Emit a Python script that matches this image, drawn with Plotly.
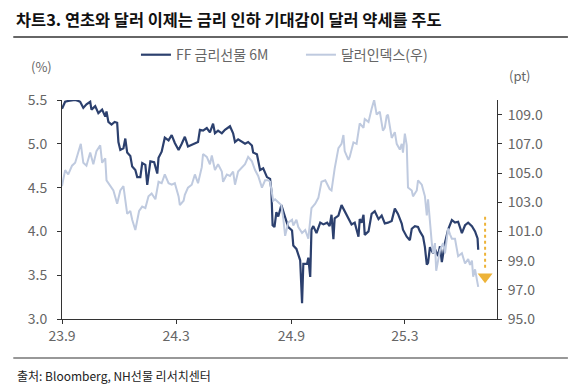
import plotly.graph_objects as go

# ---------------- data ----------------
ff_dates = ["2023-09-01","2023-09-06","2023-09-11","2023-09-22","2023-09-27","2023-09-30","2023-10-05","2023-10-10",
"2023-10-16","2023-10-18","2023-10-24","2023-10-29","2023-11-04","2023-11-09","2023-11-11","2023-11-14","2023-11-19",
"2023-11-24","2023-11-28","2023-11-30","2023-12-03","2023-12-08","2023-12-11","2023-12-14","2023-12-19","2023-12-22",
"2023-12-27","2023-12-30","2024-01-04","2024-01-07","2024-01-12","2024-01-15","2024-01-20","2024-01-26","2024-01-31",
"2024-02-02","2024-02-07","2024-02-12","2024-02-18","2024-02-23","2024-02-28","2024-03-05","2024-03-10","2024-03-15",
"2024-03-20","2024-03-26","2024-03-31","2024-04-05","2024-04-08","2024-04-13","2024-04-19","2024-04-24","2024-04-29",
"2024-05-02","2024-05-07","2024-05-13","2024-05-18","2024-05-26","2024-05-31","2024-06-03","2024-06-08","2024-06-14",
"2024-06-19","2024-06-24","2024-06-30","2024-07-02","2024-07-08","2024-07-13","2024-07-18","2024-07-24","2024-07-29",
"2024-07-31","2024-08-02","2024-08-05","2024-08-08","2024-08-11","2024-08-16","2024-08-22","2024-08-27","2024-09-02",
"2024-09-04","2024-09-09","2024-09-15","2024-09-18","2024-09-20","2024-09-26","2024-09-28","2024-10-01","2024-10-03",
"2024-10-06","2024-10-11","2024-10-17","2024-10-22","2024-10-28","2024-11-01","2024-11-04","2024-11-07","2024-11-09",
"2024-11-15","2024-11-20","2024-11-25","2024-12-01","2024-12-06","2024-12-11","2024-12-17","2024-12-19","2024-12-22",
"2024-12-25","2024-12-27","2025-01-02","2025-01-07","2025-01-12","2025-01-18","2025-01-23","2025-01-28","2025-02-02",
"2025-02-08","2025-02-13","2025-02-18","2025-02-24","2025-02-26","2025-03-04","2025-03-09","2025-03-12","2025-03-17",
"2025-03-22","2025-03-25","2025-03-30","2025-04-02","2025-04-05","2025-04-07","2025-04-10","2025-04-15","2025-04-18",
"2025-04-23","2025-04-26","2025-04-29","2025-05-04","2025-05-09","2025-05-15","2025-05-20","2025-05-25","2025-05-31",
"2025-06-05","2025-06-10","2025-06-16","2025-06-21","2025-06-25","2025-06-26"]
ff_values = [5.40,5.48,5.49,5.50,5.49,5.48,5.41,5.45,
5.48,5.39,5.43,5.35,5.39,5.31,5.37,5.25,5.22,
5.25,5.24,5.02,4.93,4.95,5.06,4.90,4.86,4.74,
4.70,4.62,4.62,4.78,4.76,4.53,4.80,4.79,4.66,
4.84,4.91,5.07,5.04,5.10,5.01,4.93,5.00,5.08,
4.97,4.99,5.00,5.02,5.16,5.15,5.18,5.13,5.23,
5.12,5.15,5.12,5.16,5.20,5.12,5.02,5.05,5.02,
5.00,5.02,4.98,4.90,4.88,4.70,4.72,4.62,4.60,
4.47,4.07,4.05,4.22,4.17,4.30,4.16,4.05,4.01,
3.84,3.80,3.67,3.18,3.63,3.63,3.70,3.48,4.02,
4.06,3.98,4.10,4.08,4.10,4.06,4.19,3.91,4.15,
4.18,4.30,4.23,4.15,4.08,4.10,3.94,4.14,4.10,
4.19,3.96,4.00,4.20,4.23,4.14,4.18,4.09,4.10,
4.12,4.26,4.20,4.09,4.02,3.94,3.90,4.03,4.06,
4.05,4.00,3.94,3.82,3.62,3.64,3.82,3.75,3.80,
3.72,3.83,3.65,3.87,4.02,4.13,4.10,4.11,3.98,
4.07,4.10,4.06,4.00,3.92,3.79]

dxy_dates = ["2023-09-01","2023-09-06","2023-09-11","2023-09-17","2023-09-22","2023-09-27","2023-10-01","2023-10-05",
"2023-10-10","2023-10-16","2023-10-21","2023-10-26","2023-11-01","2023-11-04","2023-11-09","2023-11-11","2023-11-17",
"2023-11-22","2023-11-28","2023-12-03","2023-12-08","2023-12-11","2023-12-14","2023-12-19","2023-12-22","2023-12-27",
"2024-01-02","2024-01-07","2024-01-12","2024-01-17","2024-01-22","2024-01-28","2024-02-02","2024-02-07","2024-02-12",
"2024-02-18","2024-02-23","2024-02-28","2024-03-05","2024-03-07","2024-03-13","2024-03-15","2024-03-20","2024-03-26",
"2024-03-31","2024-04-05","2024-04-11","2024-04-13","2024-04-19","2024-04-24","2024-04-27","2024-05-02","2024-05-07",
"2024-05-13","2024-05-15","2024-05-21","2024-05-26","2024-05-31","2024-06-03","2024-06-08","2024-06-14","2024-06-19",
"2024-06-24","2024-06-30","2024-07-05","2024-07-10","2024-07-16","2024-07-21","2024-07-26","2024-07-29","2024-08-03",
"2024-08-06","2024-08-11","2024-08-16","2024-08-19","2024-08-22","2024-08-27","2024-09-02","2024-09-04","2024-09-09",
"2024-09-12","2024-09-18","2024-09-23","2024-09-28","2024-10-03","2024-10-09","2024-10-14","2024-10-19","2024-10-25",
"2024-10-30","2024-11-01","2024-11-04","2024-11-09","2024-11-15","2024-11-20","2024-11-23","2024-11-25","2024-12-01",
"2024-12-03","2024-12-09","2024-12-14","2024-12-19","2024-12-25","2024-12-27","2025-01-02","2025-01-07","2025-01-11",
"2025-01-15","2025-01-20","2025-01-25","2025-01-28","2025-01-31","2025-02-02","2025-02-05","2025-02-08","2025-02-13",
"2025-02-16","2025-02-21","2025-02-24","2025-02-26","2025-03-01","2025-03-04","2025-03-06","2025-03-12","2025-03-14",
"2025-03-20","2025-03-22","2025-03-28","2025-04-02","2025-04-05","2025-04-07","2025-04-13","2025-04-15","2025-04-18",
"2025-04-20","2025-04-26","2025-05-01","2025-05-04","2025-05-09","2025-05-12","2025-05-15","2025-05-20","2025-05-23",
"2025-05-25","2025-05-31","2025-06-05","2025-06-10","2025-06-13","2025-06-16","2025-06-18","2025-06-21","2025-06-26"]
dxy_values = [104.1,105.2,104.9,105.5,105.7,106.4,107.0,105.7,
105.5,106.4,105.6,106.5,106.9,105.7,106.0,104.5,104.1,
103.8,102.9,103.8,104.1,103.1,102.2,102.4,101.8,101.1,
102.4,102.7,102.6,103.4,103.6,103.2,104.4,104.3,104.9,
104.3,104.2,104.3,103.4,102.8,103.1,103.5,104.0,104.2,
104.9,104.3,105.4,106.3,106.1,105.6,106.2,105.2,105.6,
105.1,104.4,104.9,104.8,105.1,104.2,105.1,105.4,105.6,
106.1,105.8,105.2,104.8,104.0,104.5,104.5,104.4,103.1,
103.2,103.0,102.8,101.9,100.7,101.6,101.8,101.4,101.8,
101.3,100.9,101.1,100.5,102.6,102.9,103.3,104.4,104.5,
104.1,103.9,103.8,105.3,106.7,107.0,107.6,106.5,105.9,
106.1,107.1,107.0,108.4,108.1,108.7,108.5,109.4,110.0,
109.0,109.2,107.9,108.1,108.9,109.0,108.2,107.4,107.8,
107.0,106.6,107.0,106.4,107.7,106.9,104.0,103.8,103.4,
103.8,104.5,104.2,103.4,102.1,103.2,100.2,99.5,100.2,
98.3,99.7,100.2,99.5,101.2,100.8,100.5,100.5,99.6,
99.3,99.5,98.8,99.1,98.7,99.0,97.9,98.4,97.2]

x_tick_vals = ["2023-09-01", "2024-03-01", "2024-09-01", "2025-03-01"]
x_tick_text = ["23.9", "24.3", "24.9", "25.3"]
x_range = ["2023-09-01", "2025-07-26"]
y_left_ticks = [3.0, 3.5, 4.0, 4.5, 5.0, 5.5]
y_right_ticks = [95, 97, 99, 101, 103, 105, 107, 109]

arrow_date = "2025-07-07"
arrow_top = 102.0
arrow_tip = 97.9

title_text = "차트3. 연초와 달러 이제는 금리 인하 기대감이 달러 약세를 주도"
source_text = "출처: Bloomberg, NH선물 리서치센터"

# ---------------- figure ----------------
DARK = "#2C406E"
LIGHT = "#BFCADF"
GOLD = "#EDB338"
TICKC = "#666666"
FONT = "Noto Sans CJK KR"

fig = go.Figure()
fig.add_trace(go.Scatter(x=dxy_dates, y=dxy_values, name="달러인덱스(우)", mode="lines",
                         line=dict(color=LIGHT, width=2), yaxis="y2"))
fig.add_trace(go.Scatter(x=ff_dates, y=ff_values, name="FF 금리선물 6M", mode="lines",
                         line=dict(color=DARK, width=2.2), yaxis="y"))
# arrow (dotted shaft + triangle head)
fig.add_trace(go.Scatter(x=[arrow_date, arrow_date], y=[arrow_top, arrow_tip + 0.6], mode="lines",
                         line=dict(color=GOLD, width=2, dash="dot"), yaxis="y2", showlegend=False,
                         hoverinfo="skip"))
fig.add_trace(go.Scatter(x=[arrow_date], y=[arrow_tip], mode="markers",
                         marker=dict(symbol="triangle-down", size=13, color=GOLD), yaxis="y2",
                         showlegend=False, hoverinfo="skip"))

axis_common = dict(showgrid=False, zeroline=False, showline=True, linecolor="#333333", linewidth=1,
                   ticks="outside", ticklen=4, tickcolor="#333333",
                   tickfont=dict(family=FONT, size=14, color=TICKC))

fig.update_layout(
    width=578, height=386,
    margin=dict(l=62, r=81, t=100, b=67),
    paper_bgcolor="white", plot_bgcolor="white",
    font=dict(family=FONT, color=TICKC),
    xaxis=dict(range=x_range, tickvals=x_tick_vals, ticktext=x_tick_text, **axis_common),
    yaxis=dict(range=[3.0, 5.5], tickvals=y_left_ticks, tickformat=".1f", ticklabelstandoff=7,
               **axis_common),
    yaxis2=dict(range=[95, 110], tickvals=y_right_ticks, tickformat=".1f", overlaying="y",
                side="right", ticklabelstandoff=3, **axis_common),
    legend=dict(orientation="h", x=0.17, y=1.205, xanchor="left", yanchor="middle",
                traceorder="reversed", font=dict(family=FONT, size=14, color=TICKC),
                bgcolor="rgba(0,0,0,0)", itemwidth=30, entrywidth=120, entrywidthmode="pixels"),
    showlegend=True,
)

# title, separators, source, unit labels
fig.add_annotation(text=f"<b>{title_text}</b>", xref="paper", yref="paper", x=-0.11, y=1.372,
                   xanchor="left", yanchor="middle", showarrow=False,
                   font=dict(family=FONT, size=16.4, color="#111111"))
fig.add_shape(type="line", xref="paper", yref="paper", x0=-0.112, x1=1.163, y0=1.288, y1=1.288,
              line=dict(color="#333333", width=1.5))
fig.add_shape(type="line", xref="paper", yref="paper", x0=-0.112, x1=1.163, y0=-0.178, y1=-0.178,
              line=dict(color="#333333", width=1.2))
fig.add_annotation(text=source_text, xref="paper", yref="paper", x=-0.107, y=-0.26,
                   xanchor="left", yanchor="middle", showarrow=False,
                   font=dict(family=FONT, size=12, color="#222222"))
fig.add_annotation(text="(%)", xref="paper", yref="paper", x=-0.048, y=1.155,
                   xanchor="center", yanchor="middle", showarrow=False,
                   font=dict(family=FONT, size=13, color=TICKC))
fig.add_annotation(text="(pt)", xref="paper", yref="paper", x=1.053, y=1.110,
                   xanchor="center", yanchor="middle", showarrow=False,
                   font=dict(family=FONT, size=13, color=TICKC))

fig.write_html("out.html", config={"displayModeBar": False},
               post_script="document.body.style.margin='0px';")
